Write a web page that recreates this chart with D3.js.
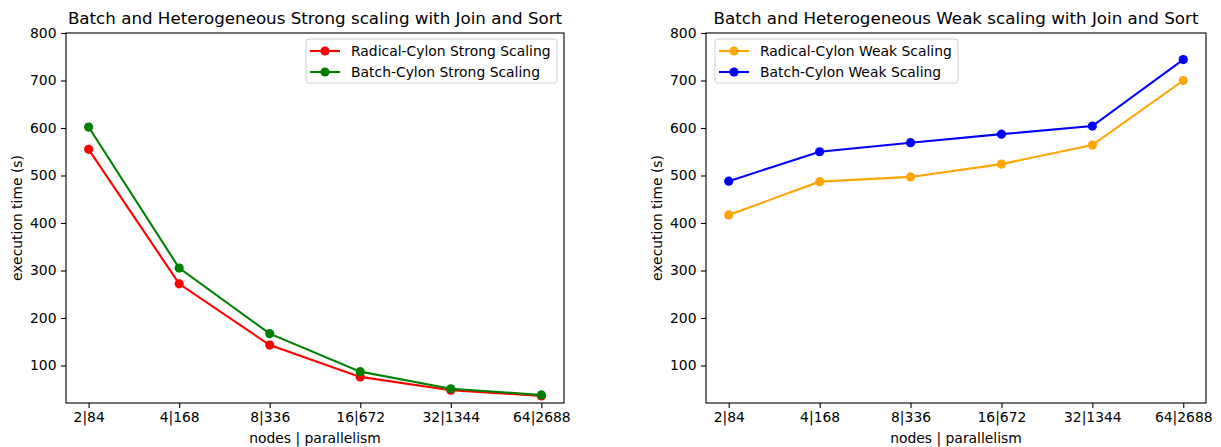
<!DOCTYPE html>
<html><head><meta charset="utf-8">
<script src="https://cdn.jsdelivr.net/npm/d3@7"></script>
<style>
body{margin:0;background:#fff;}
text{font-family:"DejaVu Sans",sans-serif;fill:#000;}
</style></head>
<body>
<svg id="chart" width="1221" height="447"></svg>
<script>
const categories = ["2|84","4|168","8|336","16|672","32|1344","64|2688"];
const radicalStrong = [555, 272, 143, 76, 48, 36];
const batchStrong = [602, 305, 167, 87, 51, 38];
const radicalWeak = [417, 487, 497, 524, 564, 700];
const batchWeak = [488, 550, 569, 587, 604, 744];
const yTicks = [100,200,300,400,500,600,700,800];

const svg = d3.select("#chart");

const panels = [
  {left:66, right:564, title:"Batch and Heterogeneous Strong scaling with Join and Sort",
   series:[{name:"Radical-Cylon Strong Scaling", values:radicalStrong, color:"red"},
           {name:"Batch-Cylon Strong Scaling", values:batchStrong, color:"green"}],
   legendX:306, legendW:251},
  {left:706, right:1206, title:"Batch and Heterogeneous Weak scaling with Join and Sort",
   series:[{name:"Radical-Cylon Weak Scaling", values:radicalWeak, color:"orange"},
           {name:"Batch-Cylon Weak Scaling", values:batchWeak, color:"blue"}],
   legendX:715, legendW:243}
];
const plotTop = 33, plotBottom = 403;

panels.forEach(p => {
  const xl = d3.scaleLinear().domain([-0.25, categories.length - 0.75]).range([p.left, p.right]);
  const y = d3.scaleLinear().domain([21, 800]).range([plotBottom, plotTop]);
  const g = svg.append("g");

  p.series.forEach(s => {
    g.append("path").datum(s.values)
      .attr("fill","none").attr("stroke", s.color).attr("stroke-width", 2.1)
      .attr("d", d3.line().x((d,i)=>xl(i)).y(d=>y(d)));
    g.selectAll(null).data(s.values).enter().append("circle")
      .attr("cx",(d,i)=>xl(i)).attr("cy",d=>y(d)).attr("r",4.6).attr("fill",s.color);
  });

  const xAxis = d3.axisBottom(xl).tickValues(d3.range(categories.length))
    .tickFormat(i=>categories[i]).tickSize(5).tickPadding(4.5);
  const gx = g.append("g").attr("transform",`translate(0,${plotBottom})`).call(xAxis);
  const yAxis = d3.axisLeft(y).tickValues(yTicks).tickSize(5).tickPadding(4.5);
  const gy = g.append("g").attr("transform",`translate(${p.left},0)`).call(yAxis);
  [gx, gy].forEach(a => {
    a.select(".domain").remove();
    a.selectAll("line").attr("stroke","#000").attr("stroke-width",1.1);
    a.selectAll("text").attr("font-size","13.9px").attr("font-family","DejaVu Sans").attr("fill","#000");
  });

  g.append("rect").attr("x",p.left).attr("y",plotTop).attr("width",p.right-p.left).attr("height",plotBottom-plotTop)
    .attr("fill","none").attr("stroke","#000").attr("stroke-width",1.1);

  g.append("text").attr("x",(p.left+p.right)/2).attr("y",plotTop-9).attr("text-anchor","middle")
    .attr("font-size","16.7px").text(p.title);
  g.append("text").attr("x",(p.left+p.right)/2).attr("y",443).attr("text-anchor","middle")
    .attr("font-size","13.9px").text("nodes | parallelism");
  g.append("text").attr("transform",`translate(${p.left-44},${(plotTop+plotBottom)/2}) rotate(-90)`)
    .attr("text-anchor","middle").attr("font-size","13.9px").text("execution time (s)");

  const lg = g.append("g");
  lg.append("rect").attr("x",p.legendX).attr("y",39).attr("width",p.legendW).attr("height",44)
    .attr("rx",3).attr("fill","#fff").attr("fill-opacity",0.8).attr("stroke","#d0d0d0").attr("stroke-width",1);
  p.series.forEach((s,i) => {
    const yy = 51 + i*21;
    lg.append("line").attr("x1",p.legendX+4).attr("x2",p.legendX+34).attr("y1",yy).attr("y2",yy)
      .attr("stroke",s.color).attr("stroke-width",2.1);
    lg.append("circle").attr("cx",p.legendX+19).attr("cy",yy).attr("r",4.6).attr("fill",s.color);
    lg.append("text").attr("x",p.legendX+45).attr("y",yy).attr("dy","0.35em")
      .attr("font-size","13.9px").text(s.name);
  });
});
</script>
</body></html>
